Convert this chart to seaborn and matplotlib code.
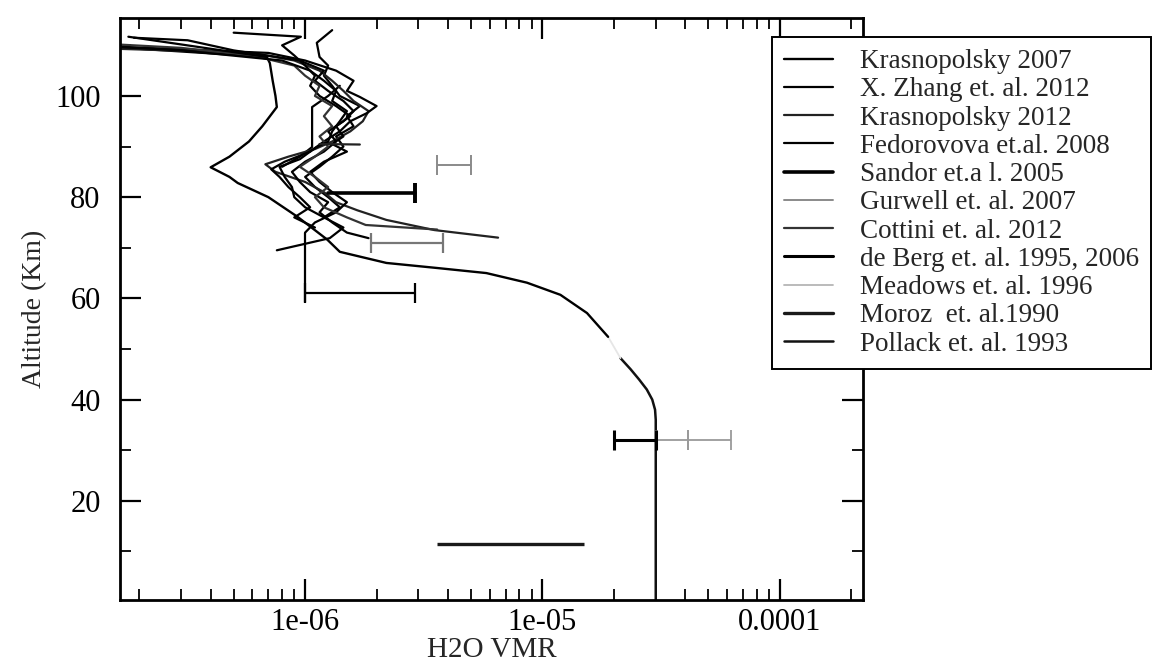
import numpy as np
import pandas as pd
import matplotlib
matplotlib.use("Agg")
import matplotlib.pyplot as plt
from matplotlib.lines import Line2D
from matplotlib.ticker import LogLocator, FixedLocator, NullFormatter
import seaborn as sns

# ---------------- data ----------------
sources = ["Krasnopolsky 2007", "X. Zhang et. al. 2012", "Krasnopolsky 2012",
           "Fedorovova et.al. 2008", "Sandor et.a l. 2005", "Gurwell et. al. 2007",
           "Cottini et. al. 2012", "de Berg et. al. 1995, 2006", "Meadows et. al. 1996",
           "Moroz  et. al.1990", "Pollack et. al. 1993"]

# lower atmosphere profile
low_alt = [0, 36, 38, 40, 42, 44, 46, 48.2]
low_vmr = [3.0e-5, 3.0e-5, 2.98e-5, 2.9e-5, 2.75e-5, 2.55e-5, 2.35e-5, 2.13e-5]
gap_alt = [48.2, 52.4]
gap_vmr = [2.13e-5, 1.89e-5]

# main model profile
k07_alt = [52.4, 57.1, 60.7, 63.1, 65.0, 66.0, 67.0, 69.2, 71.6, 76.1, 80, 82.8, 84,
           85.9, 88, 91, 94, 97.8, 100, 103, 106.5, 107.7, 109.7]
k07_vmr = [1.89e-5, 1.54e-5, 1.19e-5, 8.6e-6, 5.8e-6, 3.6e-6, 2.2e-6, 1.4e-6, 1.24e-6,
           9.3e-7, 7.0e-7, 5.2e-7, 4.8e-7, 4.0e-7, 4.8e-7, 5.8e-7, 6.6e-7, 7.6e-7,
           7.5e-7, 7.3e-7, 7.1e-7, 6.9e-7, 1.5e-7]

zh_alt = [69.5, 71.9, 74, 76, 78, 80, 82, 84, 86, 88, 90, 92, 94, 96, 98, 100, 102,
          104, 106, 107.7, 110.5, 113]
zh_vmr = [7.6e-7, 1.27e-6, 1.45e-6, 1.2e-6, 1.4e-6, 1.25e-6, 1.1e-6, 1.0e-6, 1.15e-6,
          1.3e-6, 1.45e-6, 1.35e-6, 1.6e-6, 1.5e-6, 1.7e-6, 1.4e-6, 1.3e-6, 1.2e-6,
          1.25e-6, 1.15e-6, 1.12e-6, 1.3e-6]
zh2_alt = [86, 88, 89.9, 97.8, 100, 102]
zh2_vmr = [8.0e-7, 9.5e-7, 1.07e-6, 1.07e-6, 1.25e-6, 1.4e-6]

k12_alt = [72, 73.5, 75.5, 77.4, 79, 81, 83, 85, 86.5, 88, 89.5, 91, 93, 95, 97, 99,
           101, 103, 105, 107, 108.5, 109.5]
k12_vmr = [6.5e-6, 3.5e-6, 2.2e-6, 1.66e-6, 1.35e-6, 1.2e-6, 1.0e-6, 7.5e-7, 6.8e-7,
           8.5e-7, 1.1e-6, 1.3e-6, 1.55e-6, 1.75e-6, 1.85e-6, 1.6e-6, 1.45e-6, 1.3e-6,
           1.15e-6, 9.0e-7, 6.0e-7, 1.2e-7]

fe1_alt = [74, 76, 78, 80, 82, 84, 85.5, 87, 89, 91, 93, 95, 96.6, 98, 99.8, 101, 103,
           105, 107, 108.5, 110]
fe1_vmr = [1.1e-6, 9.0e-7, 1.05e-6, 9.5e-7, 8.5e-7, 7.8e-7, 7.2e-7, 8.2e-7, 1.05e-6,
           1.2e-6, 1.4e-6, 1.55e-6, 1.82e-6, 2.0e-6, 1.7e-6, 1.5e-6, 1.6e-6, 1.35e-6,
           1.0e-6, 7.0e-7, 1.2e-7]
fe2_alt = [71.9, 73, 75, 77, 79, 81, 83, 85, 87, 89, 91, 93, 95, 97, 99, 101, 103, 105,
           107, 109, 111, 111.5]
fe2_vmr = [1.85e-6, 1.5e-6, 1.3e-6, 1.15e-6, 1.25e-6, 1.05e-6, 9.5e-7, 8.8e-7, 1.0e-6,
           1.2e-6, 1.35e-6, 1.25e-6, 1.45e-6, 1.6e-6, 1.45e-6, 1.25e-6, 1.1e-6, 1.2e-6,
           9.5e-7, 5.0e-7, 3.2e-7, 1.9e-7]
fe3_alt = [73, 75, 77, 79, 81, 83, 85, 87, 89, 90.5, 92, 94, 96, 98, 100, 102, 104,
           106, 108, 110, 111.7, 112.5]
fe3_vmr = [1.0e-6, 1.1e-6, 1.35e-6, 1.5e-6, 1.3e-6, 1.15e-6, 1.05e-6, 1.2e-6, 1.5e-6,
           1.3e-6, 1.45e-6, 1.35e-6, 1.55e-6, 1.35e-6, 1.15e-6, 1.05e-6, 1.1e-6, 1.0e-6,
           9.0e-7, 8.0e-7, 9.6e-7, 5.0e-7]
fe4_alt = [73.6, 74.5, 76, 78, 80, 82, 84, 86, 88, 90, 92, 94, 96, 98, 100, 102, 104,
           106, 108, 109.5, 110.5]
fe4_vmr = [3.6e-6, 1.8e-6, 1.5e-6, 1.2e-6, 1.1e-6, 1.25e-6, 1.1e-6, 9.5e-7, 1.1e-6,
           1.25e-6, 1.15e-6, 1.3e-6, 1.2e-6, 1.3e-6, 1.1e-6, 1.15e-6, 1.0e-6, 9.0e-7,
           6.0e-7, 3.0e-7, 1.2e-7]
fe5_alt = [76, 78, 80, 82, 84, 86, 87.5, 89.7, 91, 93, 95, 97, 99, 101, 103, 105, 107,
           109, 110]
fe5_vmr = [1.2e-6, 1.0e-6, 9.0e-7, 8.8e-7, 8.2e-7, 7.8e-7, 9.5e-7, 1.1e-6, 1.25e-6,
           1.3e-6, 1.4e-6, 1.5e-6, 1.3e-6, 1.35e-6, 1.2e-6, 1.05e-6, 8.0e-7, 3.0e-7,
           1.2e-7]
top_alt = [111.7, 107.7]
top_vmr = [1.8e-7, 6.9e-7]
short_alt = [90.5, 90.4]
short_vmr = [1.15e-6, 1.7e-6]
vert_alt = [59.3, 73]
vert_vmr = [1.0e-6, 1.0e-6]

# error bars / ranges: altitude, low, high
bar_sandor = (80.8, 1.25e-6, 2.9e-6)
bar_gurwell = (86.3, 3.6e-6, 5.0e-6)
bar_cottini = (71.0, 1.9e-6, 3.8e-6)
bar_cottini60 = (61.0, 1.0e-6, 2.9e-6)
bar_deberg = (32.1, 2.0e-5, 3.0e-5)
bar_meadows_a = (32.1, 3.0e-5, 4.1e-5)
bar_meadows_b = (32.1, 4.1e-5, 6.2e-5)
bar_moroz = (11.5, 3.6e-6, 1.5e-5)

xticks = [1e-6, 1e-5, 1e-4]
xticklabels = ["1e-06", "1e-05", "0.0001"]
yticks = [20, 40, 60, 80, 100]
yminor = [10, 30, 50, 70, 90, 110]

# ---------------- styles ----------------
style = {
    "Krasnopolsky 2007": dict(color="black", lw=1.7),
    "X. Zhang et. al. 2012": dict(color="black", lw=1.6),
    "Krasnopolsky 2012": dict(color="#222222", lw=1.6),
    "Fedorovova et.al. 2008": dict(color="black", lw=1.6),
    "Sandor et.a l. 2005": dict(color="black", lw=2.6),
    "Gurwell et. al. 2007": dict(color="#8a8a8a", lw=1.4),
    "Cottini et. al. 2012": dict(color="#333333", lw=1.6),
    "de Berg et. al. 1995, 2006": dict(color="black", lw=2.2),
    "Meadows et. al. 1996": dict(color="#b5b5b5", lw=1.3),
    "Moroz  et. al.1990": dict(color="#1a1a1a", lw=2.4),
    "Pollack et. al. 1993": dict(color="#111111", lw=1.8),
}

sns.set_theme(style="ticks")
plt.rcParams["font.family"] = ["Liberation Serif", "DejaVu Serif"]
plt.rcParams["mathtext.fontset"] = "dejavuserif"

fig = plt.figure(figsize=(11.64, 6.66), dpi=100)
ax = fig.add_axes([120 / 1164, 1 - 600 / 666, (863 - 120) / 1164, (600 - 18) / 666])
ax.set_xscale("log")


def prof(alt, vmr, src, **kw):
    st = dict(style[src])
    st.update(kw)
    sns.lineplot(x=vmr, y=alt, ax=ax, sort=False, estimator=None,
                 color=st["color"], lw=st["lw"], legend=False)


prof(low_alt, low_vmr, "Pollack et. al. 1993")
prof(gap_alt, gap_vmr, "Meadows et. al. 1996", color="#e6e6e6")
prof(k07_alt, k07_vmr, "Krasnopolsky 2007")
prof(zh_alt, zh_vmr, "X. Zhang et. al. 2012")
prof(zh2_alt, zh2_vmr, "X. Zhang et. al. 2012")
prof(k12_alt, k12_vmr, "Krasnopolsky 2012")
prof(fe1_alt, fe1_vmr, "Fedorovova et.al. 2008")
prof(fe2_alt, fe2_vmr, "Fedorovova et.al. 2008")
prof(fe3_alt, fe3_vmr, "Fedorovova et.al. 2008")
prof(fe4_alt, fe4_vmr, "Cottini et. al. 2012")
prof(fe5_alt, fe5_vmr, "Fedorovova et.al. 2008")
prof(top_alt, top_vmr, "Fedorovova et.al. 2008")
prof(short_alt, short_vmr, "Krasnopolsky 2012")
prof(vert_alt, vert_vmr, "Cottini et. al. 2012", color="black")


def ebar(b, src, cap=7, color=None, left_cap=True):
    a, lo, hi = b
    st = style[src]
    c = color or st["color"]
    if left_cap:
        ax.errorbar([lo], [a], xerr=[[0], [hi - lo]], fmt="none", ecolor=c,
                    elinewidth=st["lw"], capsize=cap, capthick=st["lw"])
    else:
        sns.lineplot(x=[lo, hi], y=[a, a], ax=ax, sort=False, estimator=None,
                     color=c, lw=st["lw"], legend=False)
        ax.errorbar([hi], [a], xerr=[[0], [0]], fmt="none", ecolor=c,
                    elinewidth=st["lw"], capsize=cap, capthick=st["lw"])


ebar(bar_sandor, "Sandor et.a l. 2005", left_cap=False)
ebar(bar_gurwell, "Gurwell et. al. 2007")
ebar(bar_cottini, "Cottini et. al. 2012", color="#777777")
ebar(bar_cottini60, "Cottini et. al. 2012", color="black")
ebar(bar_meadows_a, "Meadows et. al. 1996", color="#9a9a9a")
ebar(bar_meadows_b, "Meadows et. al. 1996", color="#9a9a9a")
ebar(bar_deberg, "de Berg et. al. 1995, 2006")
ebar(bar_moroz, "Moroz  et. al.1990", cap=0)

ax.set_xlim(1.66e-7, 2.24e-4)
ax.set_ylim(0.4, 115.4)

ax.set_xticks(xticks)
ax.set_xticklabels(xticklabels)
ax.xaxis.set_minor_locator(LogLocator(base=10, subs=np.arange(2, 10)))
ax.xaxis.set_minor_formatter(NullFormatter())
ax.set_yticks(yticks)
ax.yaxis.set_minor_locator(FixedLocator(yminor))

ax.tick_params(which="both", direction="in", top=True, right=True, colors="black",
               labelsize=22)
ax.tick_params(axis="x", pad=6)
ax.tick_params(axis="y", pad=14)
ax.tick_params(which="major", length=15, width=1.6)
ax.tick_params(which="minor", length=8, width=1.3)
for s in ax.spines.values():
    s.set_linewidth(2.0)
    s.set_color("black")
    s.set_visible(True)

ax.set_xlabel("H2O VMR", fontsize=21, labelpad=0)
ax.set_ylabel("Altitude (Km)", fontsize=20, labelpad=6)

handles = [Line2D([0], [0], color=style[s]["color"], lw=style[s]["lw"]) for s in sources]
leg = fig.legend(handles, sources, loc="upper left",
                 bbox_to_anchor=(772 / 1164, 1 - 37 / 666), frameon=True,
                 fancybox=False, edgecolor="black", framealpha=1, fontsize=19.5,
                 handlelength=1.8, handletextpad=1.0, labelspacing=0.12,
                 borderpad=0.45, borderaxespad=0)
leg.get_frame().set_linewidth(1.4)

fig.savefig("out.png", dpi=100)
